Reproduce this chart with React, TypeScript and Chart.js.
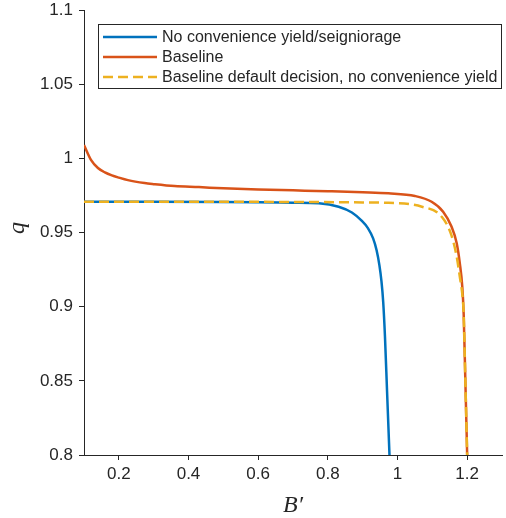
import React, { useEffect, useRef } from "react";
import { Chart, registerables } from "chart.js";

Chart.register(...registerables);

const xTicks = [0.2, 0.4, 0.6, 0.8, 1, 1.2];
const yTicks = [0.8, 0.85, 0.9, 0.95, 1, 1.05, 1.1];

const seriesNames = [
  "No convenience yield/seigniorage",
  "Baseline",
  "Baseline default decision, no convenience yield",
];

const blueX = [0.1, 0.3, 0.5, 0.6, 0.7, 0.774, 0.831, 0.869, 0.897, 0.915, 0.93, 0.94, 0.948, 0.954, 0.959, 0.964, 0.97, 0.977];
const blueY = [0.9707, 0.9707, 0.9706, 0.9704, 0.9701, 0.9697, 0.9674, 0.9635, 0.958, 0.953, 0.946, 0.938, 0.928, 0.917, 0.903, 0.88, 0.843, 0.8];

const redX = [0.1, 0.12, 0.14, 0.16, 0.18, 0.2, 0.226, 0.274, 0.3, 0.36, 0.43, 0.5, 0.6, 0.7, 0.8, 0.9, 0.974, 1.05, 1.098, 1.131, 1.155, 1.17, 1.179, 1.186, 1.19, 1.195, 1.2];
const redY = [1.009, 0.999, 0.9935, 0.9905, 0.9885, 0.987, 0.9853, 0.9833, 0.9826, 0.9813, 0.9806, 0.9798, 0.979, 0.9784, 0.9778, 0.9771, 0.9764, 0.9746, 0.9707, 0.964, 0.954, 0.9427, 0.929, 0.9134, 0.895, 0.848, 0.8];

const yellowX = [0.1, 0.3, 0.5, 0.774, 0.9, 0.974, 1.07, 1.127, 1.155, 1.17, 1.179, 1.187, 1.19, 1.195, 1.2];
const yellowY = [0.9707, 0.9707, 0.9707, 0.9705, 0.9703, 0.97, 0.9674, 0.9606, 0.948, 0.9336, 0.92, 0.906, 0.895, 0.848, 0.8];

const colors = ["#0072BD", "#D95319", "#EDB120"];
const axisColor = "#262626";

function pts(xs: number[], ys: number[]) {
  return xs.map((x, i) => ({ x, y: ys[i] }));
}

export default function App() {
  const ref = useRef<HTMLCanvasElement | null>(null);

  useEffect(() => {
    if (!ref.current) return;

    const overlay = {
      id: "overlay",
      afterDraw(chart: any) {
        const ctx = chart.ctx;
        const area = chart.chartArea;
        ctx.save();
        const bx = 98.5, by = 24.5, bw = 403, bh = 64;
        ctx.fillStyle = "#ffffff";
        ctx.fillRect(bx, by, bw, bh);
        ctx.strokeStyle = axisColor;
        ctx.lineWidth = 1;
        ctx.strokeRect(bx, by, bw, bh);
        const rows = [37, 57, 77];
        ctx.font = "16px 'Liberation Sans', Arial, sans-serif";
        ctx.textBaseline = "middle";
        ctx.textAlign = "left";
        seriesNames.forEach((name, i) => {
          ctx.beginPath();
          ctx.strokeStyle = colors[i];
          ctx.lineWidth = 2.5;
          ctx.setLineDash(i === 2 ? [10, 5] : []);
          ctx.moveTo(103, rows[i]);
          ctx.lineTo(157, rows[i]);
          ctx.stroke();
          ctx.setLineDash([]);
          ctx.fillStyle = axisColor;
          ctx.fillText(name, 162, rows[i] + 1);
        });
        ctx.fillStyle = axisColor;
        ctx.font = "italic 24px 'Liberation Serif', 'Times New Roman', serif";
        ctx.textAlign = "center";
        ctx.textBaseline = "alphabetic";
        ctx.fillText("B\u2032", (area.left + area.right) / 2, 512);
        ctx.translate(24, 228);
        ctx.rotate(-Math.PI / 2);
        ctx.fillText("q", 0, 0);
        ctx.restore();
      },
    };

    const chart = new Chart(ref.current, {
      type: "line",
      data: {
        datasets: [
          {
            label: seriesNames[0],
            data: pts(blueX, blueY),
            borderColor: colors[0],
            borderWidth: 2.5,
            pointRadius: 0,
            cubicInterpolationMode: "monotone",
            order: 2,
          },
          {
            label: seriesNames[1],
            data: pts(redX, redY),
            borderColor: colors[1],
            borderWidth: 2.5,
            pointRadius: 0,
            cubicInterpolationMode: "monotone",
            order: 1,
          },
          {
            label: seriesNames[2],
            data: pts(yellowX, yellowY),
            borderColor: colors[2],
            borderWidth: 2.5,
            borderDash: [10, 5],
            pointRadius: 0,
            cubicInterpolationMode: "monotone",
            order: 0,
          },
        ],
      },
      options: {
        animation: false,
        responsive: false,
        devicePixelRatio: 1,
        layout: { padding: { top: 10, right: 4, left: 0, bottom: 0 } },
        plugins: { legend: { display: false }, tooltip: { enabled: false } },
        scales: {
          x: {
            type: "linear",
            min: 0.1,
            max: 1.3,
            afterBuildTicks: (s: any) => {
              s.ticks = xTicks.map((v) => ({ value: v }));
            },
            afterFit: (s: any) => {
              s.height = 63;
              s.paddingLeft = 0;
              s.paddingRight = 0;
            },
            grid: {
              drawOnChartArea: false,
              drawTicks: true,
              tickLength: 5,
              color: axisColor,
            },
            border: { display: true, color: axisColor, width: 1 },
            ticks: {
              color: axisColor,
              font: { family: "'Liberation Sans', Arial, sans-serif", size: 17 },
              padding: 4,
              maxRotation: 0,
              callback: (v: any) => String(Math.round(Number(v) * 100) / 100),
            },
          },
          y: {
            type: "linear",
            min: 0.8,
            max: 1.1,
            afterBuildTicks: (s: any) => {
              s.ticks = yTicks.map((v) => ({ value: v }));
            },
            afterFit: (s: any) => {
              s.width = 84;
              s.paddingTop = 0;
              s.paddingBottom = 0;
            },
            grid: {
              drawOnChartArea: false,
              drawTicks: true,
              tickLength: 5,
              color: axisColor,
            },
            border: { display: true, color: axisColor, width: 1 },
            ticks: {
              color: axisColor,
              font: { family: "'Liberation Sans', Arial, sans-serif", size: 17 },
              padding: 6,
              callback: (v: any) => String(Math.round(Number(v) * 100) / 100),
            },
          },
        },
      },
      plugins: [overlay],
    } as any);

    return () => chart.destroy();
  }, []);

  return (
    <div style={{ position: "fixed", left: 0, top: 0, width: 506, height: 518, background: "#fff" }}>
      <canvas ref={ref} width={506} height={518} />
    </div>
  );
}
